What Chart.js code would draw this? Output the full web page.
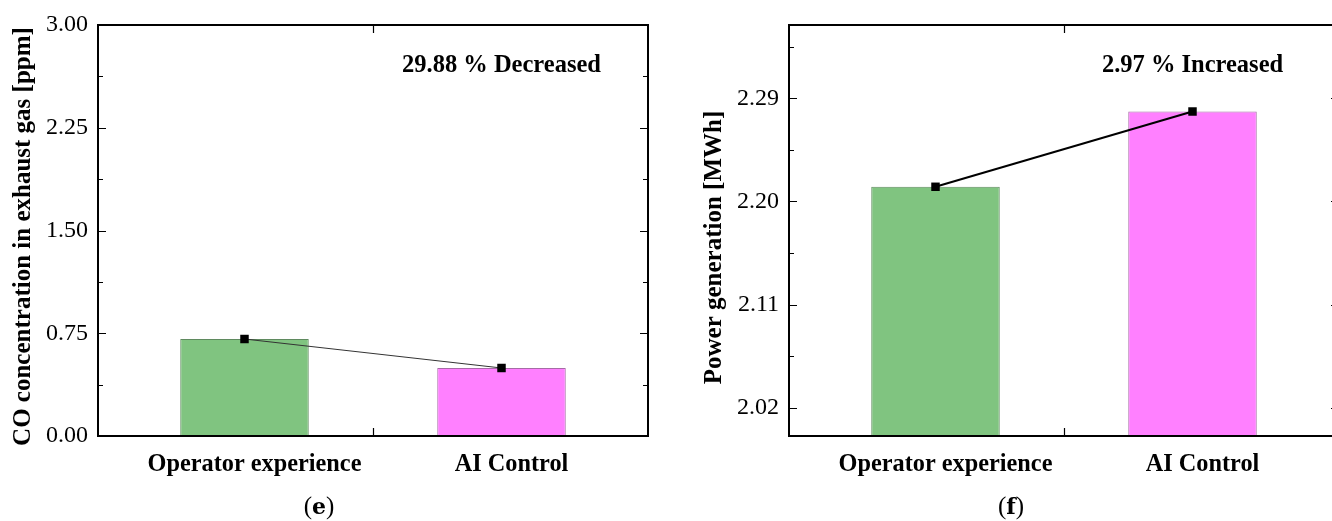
<!DOCTYPE html>
<html>
<head>
<meta charset="utf-8">
<script src="https://cdn.jsdelivr.net/npm/chart.js@4/dist/chart.umd.min.js"></script>
<style>
  html, body { margin: 0; padding: 0; background: #fff; overflow: hidden; }
  body { width: 1332px; height: 521px; position: relative; }
  .panel { position: absolute; top: 0; width: 680px; height: 521px; }
  .caption { position: absolute; top: 492px; font: 25px 'Liberation Serif', 'Times New Roman', serif; color: #000; transform: translateX(-50%); }
  .caption b { font-family: 'DejaVu Serif', 'Liberation Serif', serif; font-weight: bold; font-size: 22px; }
</style>
</head>
<body>
<div class="panel" style="left:0"><canvas id="coChart"></canvas></div>
<div class="panel" style="left:691px"><canvas id="powerChart"></canvas></div>
<div class="caption" style="left:319px">(<b>e</b>)</div>
<div class="caption" style="left:1011px">(<b>f</b>)</div>
<script>
// Two operating modes compared in both panels
const categories = ['Operator experience', 'AI Control'];

// (e) CO concentration in exhaust gas [ppm]
const coValues = [0.708, 0.4964];
const coTicks = [0.00, 0.75, 1.50, 2.25, 3.00];
const coRange = [0, 3];
const coTitle = 'CO concentration in exhaust gas [ppm]';
const coNote = '29.88 % Decreased';

// (f) Power generation [MWh]
const powerValues = [2.2128, 2.2785];
const powerTicks = [2.02, 2.11, 2.20, 2.29];
const powerRange = [1.9953, 2.354];
const powerTitle = 'Power generation [MWh]';
const powerNote = '2.97 % Increased';

const SERIF = "'Liberation Serif', 'Times New Roman', serif";
const barFill = ['#80c480', '#ff80ff'];
const barEdge = ['#5f8a5f', '#a66ca6'];

// Closed frame with inward tick marks on all four sides, the rotated
// y-axis title and the note text above the second bar
const framePlugin = {
  id: 'frame',
  afterDraw(chart, args, opts) {
    const { ctx, chartArea: a, scales } = chart;
    const y = scales.y, x = scales.x;
    ctx.save();
    ctx.strokeStyle = '#000';
    ctx.lineWidth = 1.2;
    const majors = opts.ticks;
    const step = majors[1] - majors[0];
    const minors = [];
    for (let v = majors[0] - step / 2; v <= y.max + 1e-9; v += step) {
      if (v >= y.min - 1e-9) minors.push(v);
    }
    ctx.beginPath();
    majors.forEach(v => {
      const py = Math.round(y.getPixelForValue(v)) + 0.5;
      ctx.moveTo(a.left, py); ctx.lineTo(a.left + 8, py);
      ctx.moveTo(a.right, py); ctx.lineTo(a.right - 8, py);
    });
    minors.forEach(v => {
      const py = Math.round(y.getPixelForValue(v)) + 0.5;
      ctx.moveTo(a.left, py); ctx.lineTo(a.left + 5, py);
      ctx.moveTo(a.right, py); ctx.lineTo(a.right - 5, py);
    });
    const mx = Math.round(x.getPixelForValue(1.5)) + 0.5;
    ctx.moveTo(mx, a.bottom); ctx.lineTo(mx, a.bottom - 8);
    ctx.moveTo(mx, a.top); ctx.lineTo(mx, a.top + 8);
    ctx.stroke();

    ctx.lineWidth = 2;
    ctx.strokeRect(a.left, a.top, a.right - a.left, a.bottom - a.top);

    ctx.fillStyle = '#000';
    ctx.font = 'bold 24.5px ' + SERIF;
    ctx.textAlign = 'center';
    ctx.textBaseline = 'middle';
    ctx.fillText(opts.note, x.getPixelForValue(2), a.top + 41);

    // y-axis title, rotated
    ctx.font = 'bold 25px ' + SERIF;
    ctx.translate(24, (a.top + a.bottom) / 2 + opts.titleShift);
    ctx.rotate(-Math.PI / 2);
    ctx.fillText(opts.title, 0, 0);
    ctx.restore();
  }
};

function makeChart(id, values, ticks, range, title, note, titleShift, lineWidth, lineColor) {
  const barData = categories.map((c, i) => ({ x: i + 1, y: values[i] }));
  return new Chart(document.getElementById(id), {
    type: 'bar',
    data: {
      datasets: [
        {
          type: 'line',
          data: barData,
          borderColor: lineColor,
          borderWidth: lineWidth,
          pointStyle: 'rect',
          pointRadius: 6,
          pointBorderWidth: 0,
          pointBackgroundColor: '#000',
          order: 0
        },
        {
          type: 'bar',
          data: barData,
          backgroundColor: barFill,
          borderColor: barEdge,
          borderWidth: 1,
          categoryPercentage: 1,
          barPercentage: 0.5,
          order: 1
        }
      ]
    },
    options: {
      responsive: false,
      animation: false,
      events: [],
      layout: { padding: { top: 25, right: 32, bottom: 0, left: 0 } },
      plugins: {
        legend: { display: false },
        tooltip: { enabled: false },
        frame: { ticks: ticks, note: note, title: title, titleShift: titleShift }
      },
      scales: {
        x: {
          type: 'linear',
          offset: false,
          min: 0.43,
          max: 2.57,
          grid: { display: false, drawTicks: false, offset: false },
          border: { display: false },
          afterBuildTicks: s => { s.ticks = categories.map((c, i) => ({ value: i + 1 })); },
          afterFit: s => { s.height = 85; },
          ticks: {
            color: '#000',
            padding: 14,
            labelOffset: 10,
            maxRotation: 0,
            autoSkip: false,
            font: { family: SERIF, size: 24.3, weight: 'bold' },
            callback: v => categories[v - 1]
          }
        },
        y: {
          min: range[0],
          max: range[1],
          grid: { display: false, drawTicks: false },
          border: { display: false },
          afterBuildTicks: s => { s.ticks = ticks.map(v => ({ value: v })); },
          afterFit: s => { s.width = 98; },
          ticks: {
            color: '#000',
            padding: 10,
            font: { family: SERIF, size: 24 },
            callback: v => Number(v).toFixed(2)
          }
        }
      }
    },
    plugins: [framePlugin]
  });
}

function sizeCanvas(id) {
  const c = document.getElementById(id);
  c.width = 680; c.height = 521;
  c.style.width = '680px'; c.style.height = '521px';
}
sizeCanvas('coChart');
sizeCanvas('powerChart');

makeChart('coChart', coValues, coTicks, coRange, coTitle, coNote, 6, 1, '#333');
makeChart('powerChart', powerValues, powerTicks, powerRange, powerTitle, powerNote, 17, 2, '#000');
</script>
</body>
</html>
